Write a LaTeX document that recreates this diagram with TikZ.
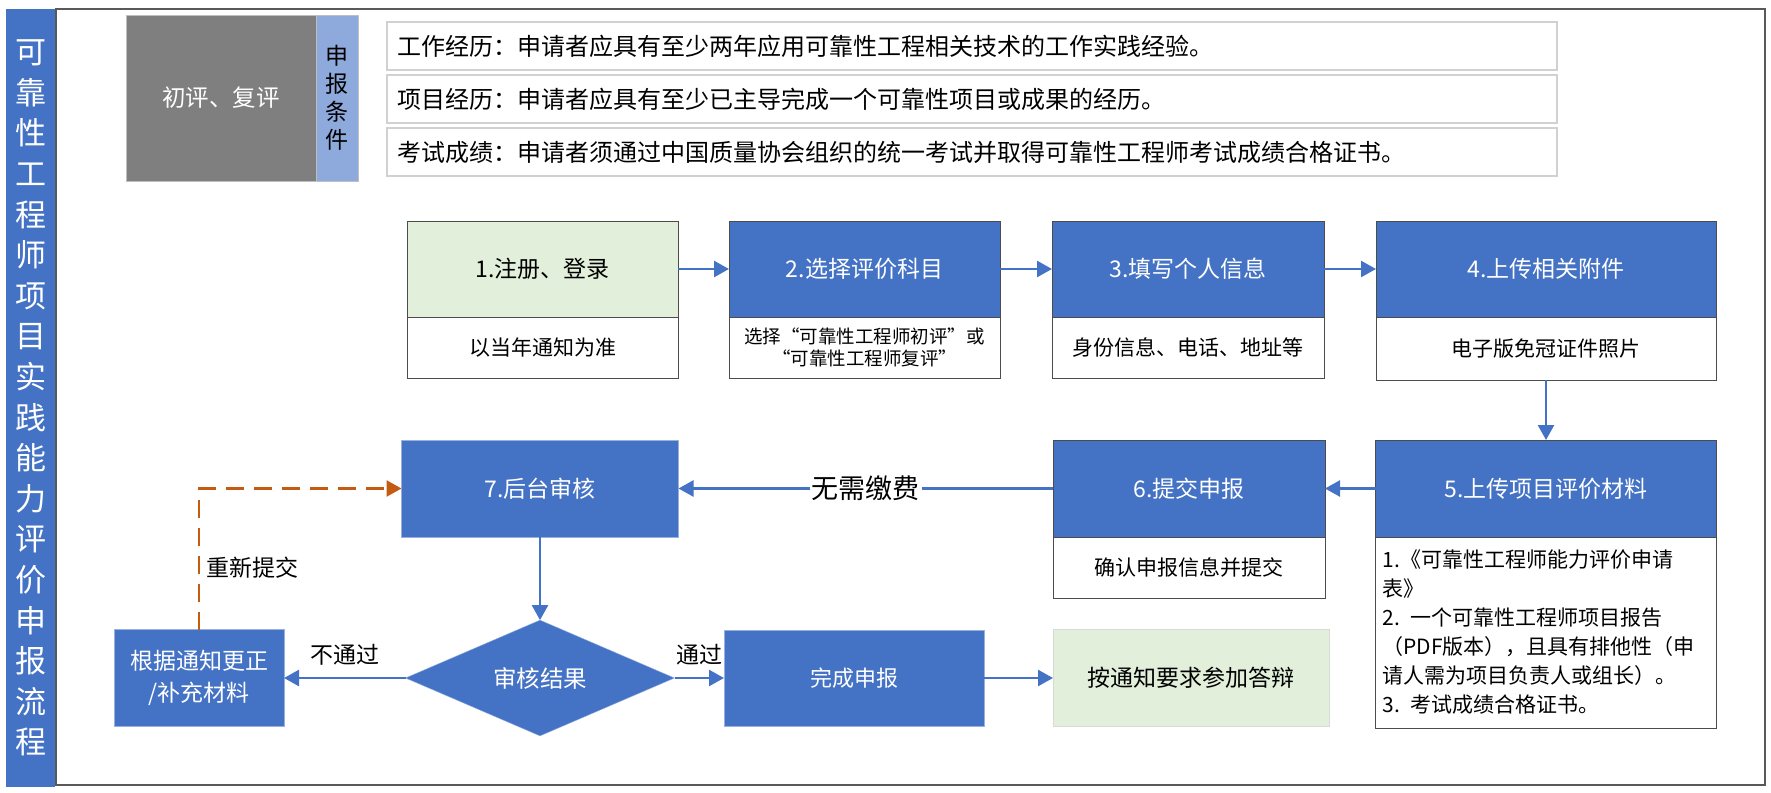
\documentclass[tikz,border=0pt]{standalone}
\usepackage{fontspec}
\setmainfont{Noto Sans CJK SC}
\usetikzlibrary{shapes.geometric,arrows.meta,positioning}
\definecolor{flowblue}{HTML}{4472C4}
\definecolor{flowgreen}{HTML}{E2EFDA}
\definecolor{condblue}{HTML}{8EA9DB}
\definecolor{phasegray}{HTML}{7F7F7F}
\definecolor{redoorange}{HTML}{C55A11}
\definecolor{framegray}{HTML}{595959}
\newcommand{\fsz}[2]{\fontsize{#1}{#2}\selectfont}

\begin{document}
\begin{tikzpicture}[
  x=1pt, y=-1pt,
  every node/.style={font=\fsz{21}{25}, outer sep=0pt},
  head/.style={rectangle, draw=black!70, line width=0.8pt, fill=flowblue, text=white, font=\fsz{23}{27}, minimum height=96pt},
  note/.style={rectangle, draw=black!70, line width=0.8pt, fill=white, align=center, minimum height=61pt},
  blk/.style={rectangle, draw=flowblue!55, line width=0.8pt, fill=flowblue, text=white, align=center, font=\fsz{23}{32}, minimum height=97pt},
  req/.style={rectangle, draw=black!18, line width=1.5pt, minimum width=1170pt, minimum height=48pt, text width=1150pt, inner xsep=10pt, align=left, font=\fsz{24}{28}},
  lbl/.style={inner sep=2pt, text=black, font=\fsz{23}{27}},
  arr/.style={-{Triangle[length=15pt, width=16pt]}, line width=2.5pt, flowblue},
  redo/.style={-{Triangle[length=15pt, width=16pt]}, line width=2.5pt, redoorange, dash pattern=on 18pt off 10pt},
]
\useasboundingbox (0,0) rectangle (1771,792);

% frame and title bar
\draw[framegray, line width=2.5pt] (56,9) rectangle (1765,785);
\node[rectangle, fill=flowblue, minimum width=49pt, minimum height=778pt, text=white, align=center, font=\fsz{31}{40.6}] (title) at (30.5,398)
  {可\\靠\\性\\工\\程\\师\\项\\目\\实\\践\\能\\力\\评\\价\\申\\报\\流\\程};

% requirements
\node[rectangle, draw=black!25, fill=phasegray, text=white, minimum width=190pt, minimum height=166pt, font=\fsz{23.5}{28}] (phase) at (221,98) {初评、复评};
\node[rectangle, draw=black!25, fill=condblue, minimum width=42pt, minimum height=166pt, align=center, font=\fsz{23}{28}] (cond) at (337,98) {申\\报\\条\\件};
\node[req] (work) at (972,46) {工作经历：申请者应具有至少两年应用可靠性工程相关技术的工作实践经验。};
\node[req] (proj) at (972,99) {项目经历：申请者应具有至少已主导完成一个可靠性项目或成果的经历。};
\node[req] (exam) at (972,152) {考试成绩：申请者须通过中国质量协会组织的统一考试并取得可靠性工程师考试成绩合格证书。};

% steps 1-4
\node[head, fill=flowgreen, text=black, minimum width=271pt] (reg) at (542.5,269) {1.注册、登录};
\node[note, minimum width=271pt, below=0pt of reg] (regnote) {以当年通知为准};
\node[head, minimum width=271pt] (sel) at (864.5,269) {2.选择评价科目};
\node[note, minimum width=271pt, below=0pt of sel, font=\fsz{18.5}{21.5}] (selnote) {选择“可靠性工程师初评”或\\“可靠性工程师复评”};
\node[head, minimum width=272pt] (info) at (1188,269) {3.填写个人信息};
\node[note, minimum width=272pt, below=0pt of info] (infonote) {身份信息、电话、地址等};
\node[head, minimum width=340pt] (att) at (1546,269) {4.上传相关附件};
\node[note, minimum width=340pt, minimum height=63pt, below=0pt of att] (attnote) {电子版免冠证件照片};

% steps 5-7
\node[head, minimum width=341pt, minimum height=97pt] (upload) at (1546,488.5) {5.上传项目评价材料};
\node[note, minimum width=341pt, minimum height=191pt, below=0pt of upload, align=left, text width=327pt, inner xsep=7pt, font=\fsz{21}{29}] (uploadnote)
  {1.《可靠性工程师能力评价申请\\表》\\2. 一个可靠性工程师项目报告\\（PDF版本），且具有排他性（申\\请人需为项目负责人或组长）。\\3. 考试成绩合格证书。};
\node[head, minimum width=272pt, minimum height=97pt] (submit) at (1189,488.5) {6.提交申报};
\node[note, minimum width=272pt, below=0pt of submit] (submitnote) {确认申报信息并提交};
\node[blk, minimum width=277pt] (review) at (540,488.5) {7.后台审核};

% result row
\node[diamond, fill=flowblue, draw=flowblue!55, text=white, minimum width=269pt, minimum height=96pt, inner sep=0pt, font=\fsz{23.5}{28}] (result) at (540,678) {审核结果};
\node[blk, minimum width=170pt] (fix) at (199,678) {根据通知更正\\/补充材料};
\node[blk, minimum width=260pt, minimum height=96pt, font=\fsz{22}{26}] (done) at (854,678) {完成申报};
\node[blk, fill=flowgreen, draw=black!15, text=black, minimum width=276pt] (defense) at (1191,678) {按通知要求参加答辩};

\draw[arr] (reg) -- (sel);
\draw[arr] (sel) -- (info);
\draw[arr] (info) -- (att);
\draw[arr] (attnote) -- (upload);
\draw[arr] (upload) -- (submit);
\draw[arr] (submit) -- node[fill=white, inner sep=2pt, text=black, font=\fsz{27}{30}] (fee) {无需缴费} (review);
\draw[arr] (review) -- (result);
\draw[arr] (result) -- node[lbl, above=11pt] (fail) {不通过} (fix);
\draw[arr] (result) -- node[lbl, above=11pt] (pass) {通过} (done);
\draw[arr] (done) -- (defense);
\draw[redo] (fix) |- node[lbl, pos=0.22, right=5pt] (resub) {重新提交} (review);

\end{tikzpicture}
\end{document}
